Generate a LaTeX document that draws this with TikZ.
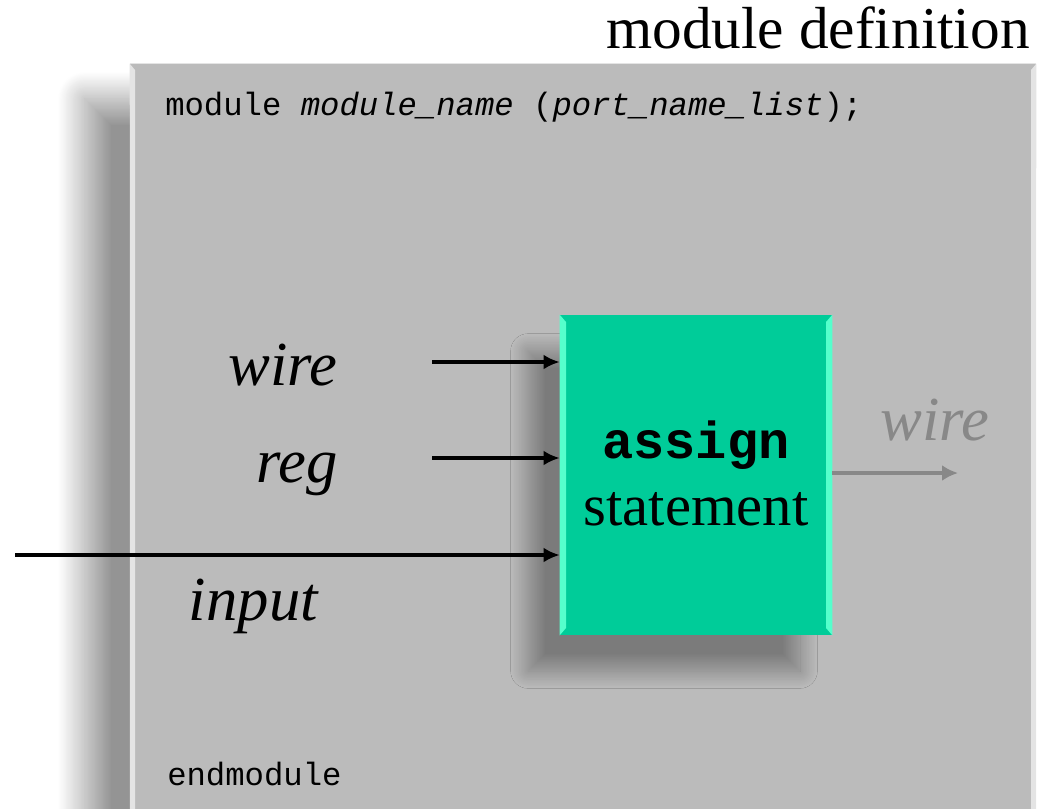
\documentclass[tikz,border=0pt]{standalone}
\usepackage{fontspec}
\setmainfont{Liberation Serif}
\setmonofont{Liberation Mono}
\usetikzlibrary{arrows.meta,shadows.blur}
\definecolor{boxgray}{HTML}{BBBBBB}
\definecolor{bevelgray}{HTML}{E4E4E4}
\definecolor{stmtgreen}{HTML}{00CC99}
\definecolor{bevelgreen}{HTML}{55FFCC}
\definecolor{outgray}{HTML}{888888}

\begin{document}
\begin{tikzpicture}[x=0.75pt,y=-0.75pt]
    \tikzstyle{module box}=[rectangle,fill=boxgray,inner sep=0pt,minimum width=679.5pt,minimum height=574.5pt,
        blur shadow={shadow xshift=-34pt,shadow yshift=-26pt,shadow blur radius=20pt,shadow blur steps=50,
        shadow blur extra rounding=0pt,shadow opacity=42}]
    \tikzstyle{stmt box}=[rectangle,fill=stmtgreen,inner sep=0pt,minimum width=204pt,minimum height=240pt,
        blur shadow={shadow xshift=-24pt,shadow yshift=-27pt,shadow blur radius=13pt,shadow blur steps=25,
        shadow blur extra rounding=0pt,shadow opacity=34}]
    \tikzstyle{port arrow}=[black,line width=3pt,-{Latex[length=12pt,width=11pt]}]
    \tikzstyle{out arrow}=[outgray,line width=3pt,-{Latex[length=12pt,width=12pt]}]
    \tikzstyle{port label}=[anchor=base east,inner sep=0pt,font=\itshape\fontsize{47}{52}\selectfont]
    \tikzstyle{code}=[anchor=base west,inner sep=0pt,font=\ttfamily\fontsize{24.2}{28}\selectfont]

    \useasboundingbox (0,0) rectangle (1044,808);

    % Title
    \node[anchor=base east,inner sep=0pt,font=\fontsize{44.5}{50}\selectfont] (title) at (1030,48) {module definition};

    % Draw the module body
    \node[module box] (module) at (583,447) {};
    \fill[bevelgray] (module.north west) -- (135,70) -- (135,830) -- (130,830) -- cycle;
    \fill[bevelgray] (module.north east) -- (1031,70) -- (1031,830) -- (1036,830) -- cycle;
    \draw[bevelgray,line width=0.75pt] (module.north west) -- (module.north east);
    \node[code] (head) at (165,115) {module \textit{module\_name} (\textit{port\_name\_list});};
    \node[code] (tail) at (167,785) {endmodule};

    % Draw the statement block
    \node[stmt box] (stmt) at (696,475) {};
    \fill[bevelgreen] (stmt.north west) -- (566,322) -- (566,628) -- (stmt.south west) -- cycle;
    \fill[bevelgreen] (stmt.north east) -- (826,322) -- (826,628) -- (stmt.south east) -- cycle;
    \node[anchor=base,inner sep=0pt,font=\ttfamily\bfseries\fontsize{39}{44}\selectfont] (kw) at (696,458) {assign};
    \node[anchor=base,inner sep=0pt,font=\fontsize{44}{50}\selectfont] (st) at (696,525) {statement};

    % Draw the input ports
    \foreach \name / \x / \y in {wire/432/362, reg/432/458, input/15/555}
        \coordinate (P-\name) at (\x,\y);
    \foreach \name in {wire,reg,input}
        \draw[port arrow] (P-\name) -- (stmt.west |- P-\name);

    % Annotate the ports
    \node[port label] (L-wire) at (338,385) {wire};
    \node[port label] (L-reg) at (338,482) {reg};
    \node[port label] (L-input) at (318,620) {input};

    % Draw the output port
    \coordinate (O-wire) at (958,473);
    \draw[out arrow] (stmt.east |- O-wire) -- (O-wire);
    \node[port label,text=outgray] (L-out) at (990,440) {wire};
\end{tikzpicture}
\end{document}
